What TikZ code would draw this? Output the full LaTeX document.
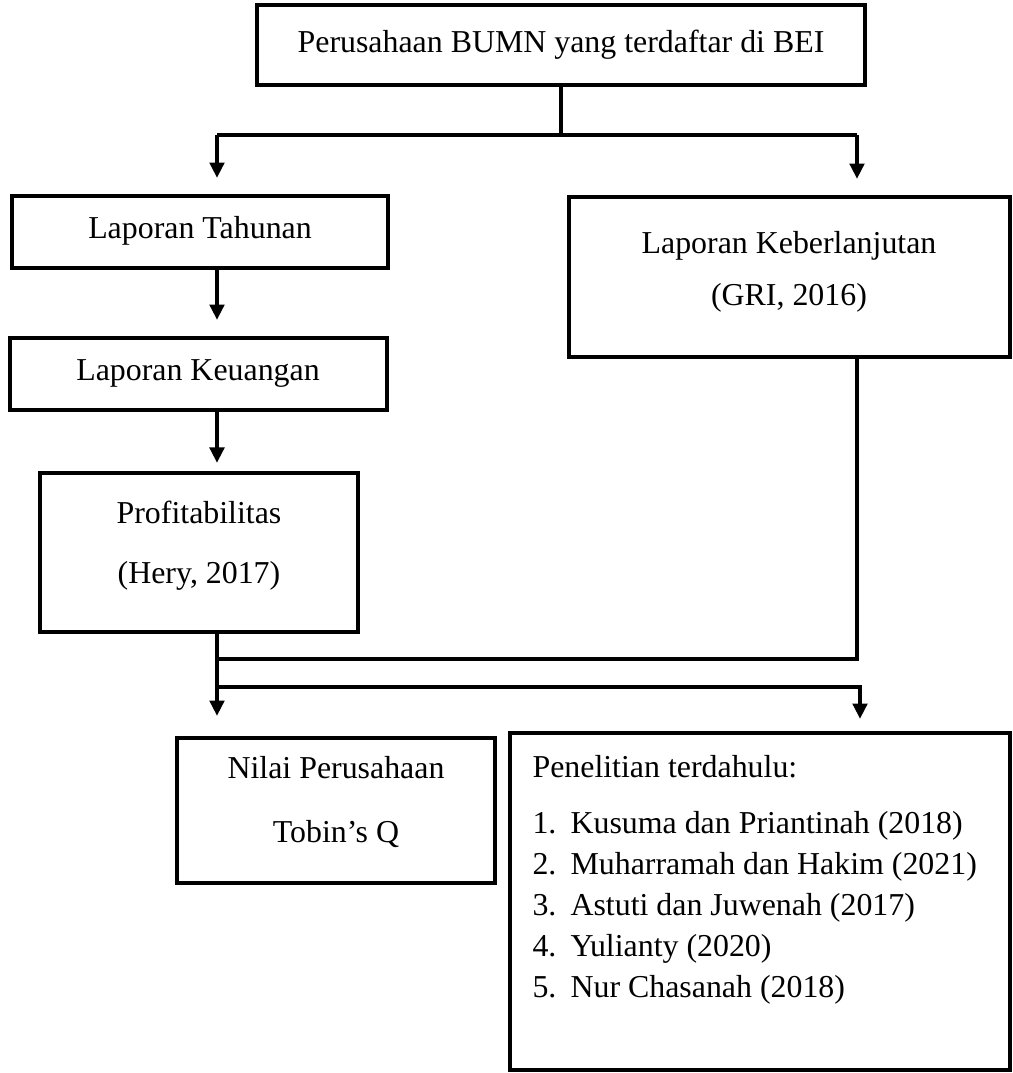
\documentclass[tikz,border=0pt]{standalone}
\usepackage{fontspec}
\setmainfont{Liberation Serif}
\usetikzlibrary{arrows.meta}
\def\satuan{0.3764pt}
\tikzset{
  kotak/.style={draw, line width=1.6pt, inner sep=0pt},
  teks/.style={font=\fontsize{12}{14}\selectfont, inner sep=0pt, text height=8pt, text depth=0pt},
  garis/.style={line width=1.6pt},
  panah/.style={garis, -{Triangle[length=5.8pt,width=5.4pt]}, shorten >=6pt},
}

\begin{document}
\begin{tikzpicture}[x=\satuan, y=-\satuan]
\useasboundingbox (0,0) rectangle (1012,1073);
\node[kotak, minimum width=608*\satuan, minimum height=80*\satuan] (atas) at (561,45) {};
\node[kotak, minimum width=376*\satuan, minimum height=72*\satuan] (tahunan) at (200,232) {};
\node[kotak, minimum width=377*\satuan, minimum height=72*\satuan] (keuangan) at (198.5,374) {};
\node[kotak, minimum width=318*\satuan, minimum height=159*\satuan] (profit) at (199,552.5) {};
\node[kotak, minimum width=441*\satuan, minimum height=160*\satuan] (lanjut) at (789.5,277) {};
\node[kotak, minimum width=318*\satuan, minimum height=145*\satuan] (nilai) at (336,810.5) {};
\node[kotak, minimum width=500*\satuan, minimum height=337*\satuan] (teliti) at (760,901.5) {};
\node[teks] (t-atas) at (561,42) {Perusahaan BUMN yang terdaftar di BEI};
\node[teks] (t-tahunan) at (200,228) {Laporan Tahunan};
\node[teks] (t-keuangan) at (198,370) {Laporan Keuangan};
\node[teks] (t-profit) at (199,513) {Profitabilitas};
\node[teks] (t-hery) at (199,573) {(Hery, 2017)};
\node[teks] (t-lanjut) at (789,243) {Laporan Keberlanjutan};
\node[teks] (t-gri) at (789,295) {(GRI, 2016)};
\node[teks] (t-nilai) at (336,768) {Nilai Perusahaan};
\node[teks] (t-tobin) at (336,832) {Tobin’s Q};
\node[teks, anchor=west] (t-teliti) at (532,767) {Penelitian terdahulu:};
\foreach \nama [count=\n] in {Kusuma dan Priantinah (2018), Muharramah dan Hakim (2021), Astuti dan Juwenah (2017), Yulianty (2020), Nur Chasanah (2018)}{
  \node[teks, anchor=west] (no-\n) at (532,782+41*\n) {\n.};
  \node[teks, anchor=west] (ref-\n) at (570,782+41*\n) {\nama};
}
\coordinate (k1) at (217,135);
\coordinate (k2) at (857,135);
\coordinate (g1) at (217,659);
\coordinate (g2) at (217,687);
\coordinate (g3) at (860,687);
\draw[garis] (atas.south) -- (atas.south |- k1);
\draw[garis] (k1) -- (k2);
\draw[panah] (k1) -- (k1 |- tahunan.north);
\draw[panah] (k2) -- (k2 |- lanjut.north);
\draw[panah] (k1 |- tahunan.south) -- (k1 |- keuangan.north);
\draw[panah, shorten >=3pt] (k1 |- keuangan.south) -- (k1 |- profit.north);
\draw[garis] (k2 |- lanjut.south) -- (k2 |- g1) -- (g1);
\draw[panah, shorten >=7.5pt] (k1 |- profit.south) -- (k1 |- nilai.north);
\draw[panah, shorten >=4.5pt] (g2) -- (g3) -- (g3 |- teliti.north);
\end{tikzpicture}
\end{document}
